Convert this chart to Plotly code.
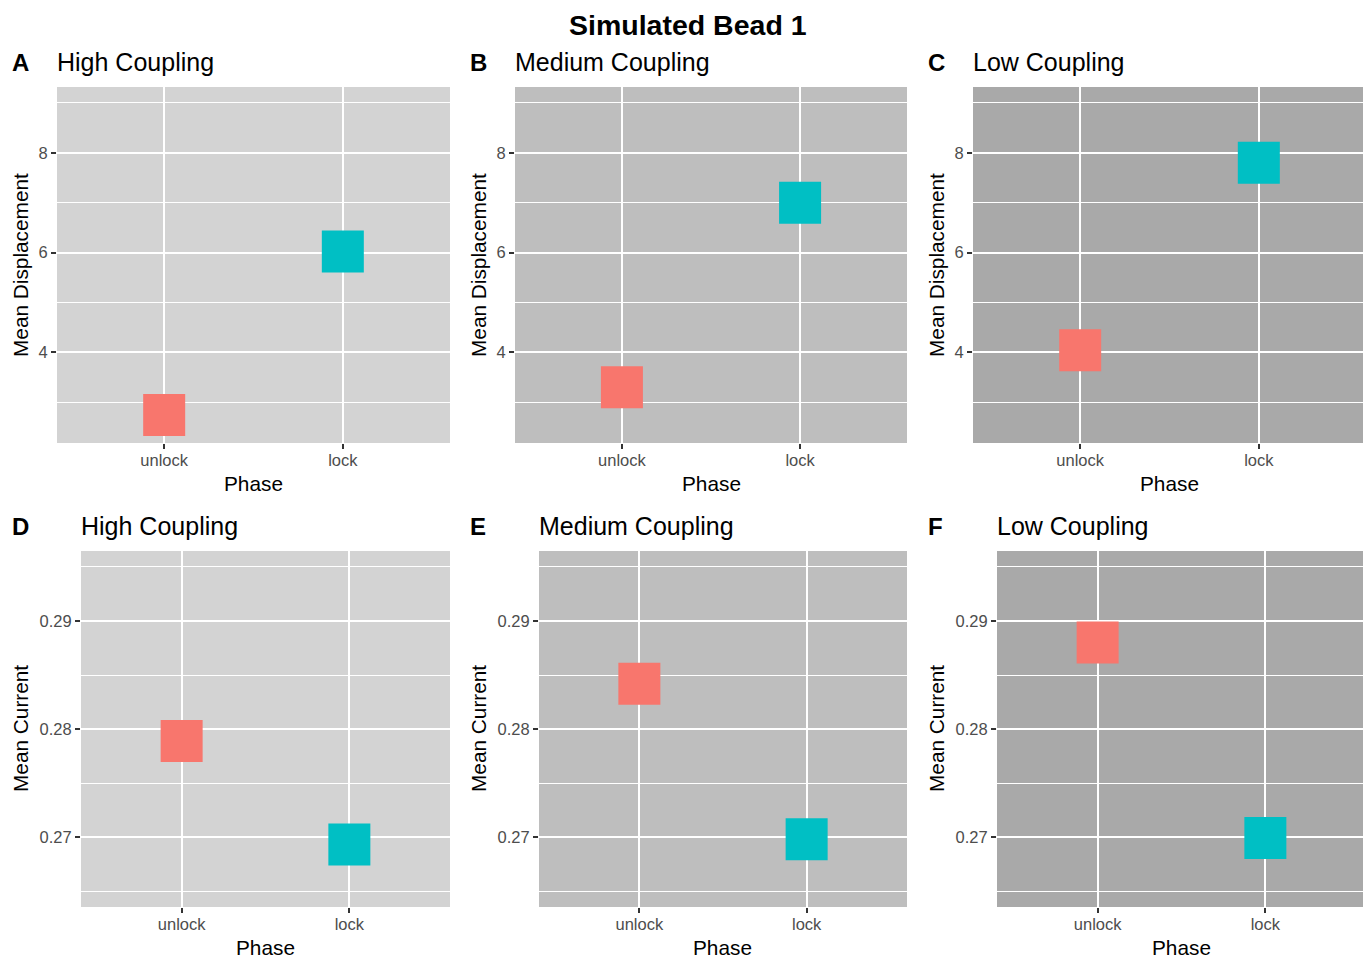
import plotly.graph_objects as go

# ---- data ----
phases = ["unlock", "lock"]
coupling = ["High Coupling", "Medium Coupling", "Low Coupling"]
panel_letters_top = ["A", "B", "C"]
panel_letters_bottom = ["D", "E", "F"]
displacement_unlock = [2.74, 3.30, 4.04]
displacement_lock = [6.02, 7.00, 7.80]
current_unlock = [0.2789, 0.2842, 0.2880]
current_lock = [0.2693, 0.2698, 0.2699]
disp_ticks = [4, 6, 8]
disp_minor = [3, 5, 7, 9]
curr_ticks = [0.27, 0.28, 0.29]
curr_ticklabels = ["0.27", "0.28", "0.29"]
curr_minor = [0.265, 0.275, 0.285, 0.295]

# ---- style ----
OFF = 8  # browser body margin
W, H = 1371 - OFF, 958 - OFF
panel_bg = ["#D3D3D3", "#BEBEBE", "#A9A9A9"]
col_unlock = "#F8766D"
col_lock = "#00BFC4"
FONT = "Arial, Liberation Sans, sans-serif"

top_x = [(57, 450), (515, 907), (973, 1366)]
bot_x = [(81, 450), (539, 907), (997, 1366)]
top_y = (87, 443)
bot_y = (551, 907)
letter_x = [12, 470, 928]


def px(x):
    return (x - OFF) / W


def py(y):
    return 1 - (y - OFF) / H


def xd(a, b):
    return [px(a), px(b)]


def yd(a, b):
    return [py(b), py(a)]


fig = go.Figure()
annotations = []
shapes = []

panels = []
for i in range(3):
    panels.append(dict(xr=top_x[i], yr=top_y, yvals=[displacement_unlock[i], displacement_lock[i]],
                       ytitle="Mean Displacement", yrange=[2.18, 9.32], ticks=disp_ticks,
                       ticktext=[str(t) for t in disp_ticks], minor=disp_minor,
                       letter=panel_letters_top[i], title=coupling[i], bg=panel_bg[i]))
for i in range(3):
    panels.append(dict(xr=bot_x[i], yr=bot_y, yvals=[current_unlock[i], current_lock[i]],
                       ytitle="Mean Current", yrange=[0.26352, 0.29648], ticks=curr_ticks,
                       ticktext=curr_ticklabels, minor=curr_minor,
                       letter=panel_letters_bottom[i], title=coupling[i], bg=panel_bg[i]))

layout_axes = {}
for k, p in enumerate(panels):
    n = k + 1
    xa = "x" if n == 1 else f"x{n}"
    ya = "y" if n == 1 else f"y{n}"
    xkey = "xaxis" if n == 1 else f"xaxis{n}"
    ykey = "yaxis" if n == 1 else f"yaxis{n}"
    col = k % 3
    fig.add_trace(go.Scatter(
        x=phases, y=p["yvals"], mode="markers", xaxis=xa, yaxis=ya,
        marker=dict(symbol="square", size=42, color=[col_unlock, col_lock], line=dict(width=0)),
        showlegend=False, hoverinfo="x+y"))
    layout_axes[xkey] = dict(
        domain=xd(*p["xr"]), anchor=ya, type="category", categoryorder="array",
        categoryarray=phases, range=[-0.6, 1.6], showgrid=True, gridcolor="white", gridwidth=2,
        zeroline=False, showline=False, ticks="outside", ticklen=5, tickwidth=1.5,
        tickcolor="#333333", tickfont=dict(family=FONT, size=16.5, color="#4D4D4D"),
        ticklabelstandoff=-3, fixedrange=True)
    layout_axes[ykey] = dict(
        domain=yd(*p["yr"]), anchor=xa, range=p["yrange"], tickmode="array",
        tickvals=p["ticks"], ticktext=p["ticktext"], showgrid=True, gridcolor="white", gridwidth=2,
        minor=dict(tickmode="array", tickvals=p["minor"], showgrid=True, gridcolor="white",
                   gridwidth=1, ticks=""),
        zeroline=False, showline=False, ticks="outside", ticklen=5, tickwidth=1.5,
        tickcolor="#333333", tickfont=dict(family=FONT, size=16.5, color="#4D4D4D"),
        fixedrange=True)
    # panel background
    shapes.append(dict(type="rect", xref=f"{xa} domain", yref=f"{ya} domain", x0=0, x1=1, y0=0, y1=1,
                       fillcolor=p["bg"], line=dict(width=0), layer="below"))
    # y axis title
    ymid = (p["yr"][0] + p["yr"][1]) / 2
    annotations.append(dict(text=p["ytitle"], xref="paper", yref="paper",
                            x=px(letter_x[col] + 8), y=py(ymid), textangle=-90,
                            showarrow=False, xanchor="center", yanchor="middle",
                            font=dict(family=FONT, size=20.8, color="black")))
    # x axis title
    xmid = (p["xr"][0] + p["xr"][1]) / 2
    annotations.append(dict(text="Phase", xref="paper", yref="paper",
                            x=px(xmid), y=py(p["yr"][1] + 40), showarrow=False,
                            xanchor="center", yanchor="middle",
                            font=dict(family=FONT, size=20.8, color="black")))
    # panel letter
    annotations.append(dict(text=f"<b>{p['letter']}</b>", xref="paper", yref="paper",
                            x=px(letter_x[col] - 2), y=py(p["yr"][0] - 25), showarrow=False,
                            xanchor="left", yanchor="middle",
                            font=dict(family=FONT, size=24, color="black")))
    # panel title
    annotations.append(dict(text=p["title"], xref="paper", yref="paper",
                            x=px(p["xr"][0] - 2), y=py(p["yr"][0] - 25), showarrow=False,
                            xanchor="left", yanchor="middle",
                            font=dict(family=FONT, size=25, color="black")))

annotations.append(dict(text="<b>Simulated Bead 1</b>", xref="paper", yref="paper",
                        x=px(688), y=py(25), showarrow=False, xanchor="center", yanchor="middle",
                        font=dict(family=FONT, size=28.5, color="black")))

fig.update_layout(
    width=W, height=H, margin=dict(l=0, r=0, t=0, b=0),
    paper_bgcolor="white", plot_bgcolor="rgba(0,0,0,0)",
    annotations=annotations, shapes=shapes, showlegend=False,
    **layout_axes)

fig.write_html("out.html")
